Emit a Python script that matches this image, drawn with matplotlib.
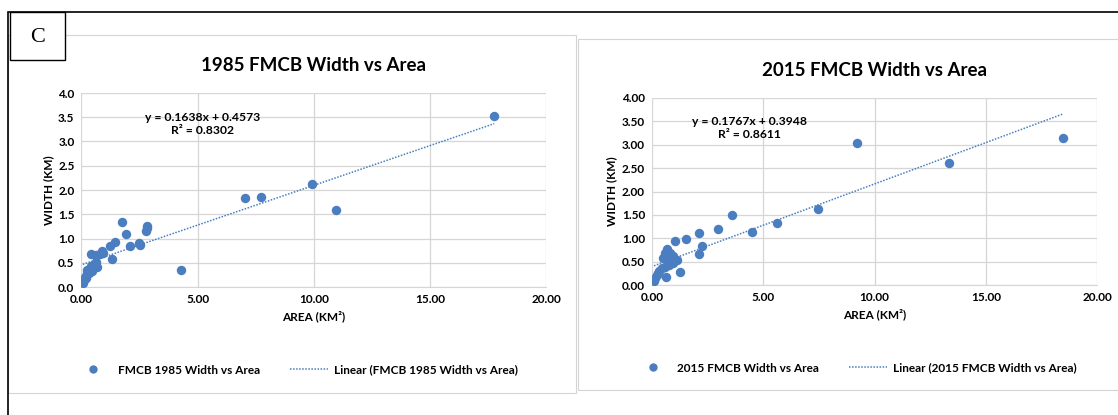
import numpy as np
import matplotlib.pyplot as plt
from matplotlib.lines import Line2D
from matplotlib.patches import Rectangle

# FMCB measurements, 1985
area_1985 = [17.77, 9.92, 10.98, 7.03, 7.72, 4.28, 1.74, 1.92, 2.10, 2.46, 2.53,
             2.84, 2.79, 2.81, 1.45, 1.24, 1.31, 0.40, 0.88, 0.95, 0.78, 0.63,
             0.63, 0.66, 0.52, 0.37, 0.30, 0.23, 0.16, 0.11, 0.06, 0.45, 0.20,
             0.34, 0.42, 0.26]
width_1985 = [3.53, 2.12, 1.58, 1.84, 1.86, 0.36, 1.33, 1.10, 0.85, 0.91, 0.87,
              1.26, 1.16, 1.21, 0.93, 0.85, 0.58, 0.69, 0.74, 0.71, 0.69, 0.66,
              0.52, 0.42, 0.45, 0.38, 0.35, 0.28, 0.21, 0.14, 0.08, 0.32, 0.18,
              0.29, 0.43, 0.36]

# FMCB measurements, 2015
area_2015 = [18.47, 9.22, 13.37, 7.45, 5.60, 4.48, 3.60, 2.95, 2.11, 2.23, 2.11,
             1.51, 1.03, 1.26, 0.63, 0.66, 0.81, 0.94, 1.11, 0.88, 0.73, 0.58,
             0.51, 0.69, 0.43, 0.33, 0.21, 0.13, 0.09, 0.28, 0.78, 0.96, 0.58]
width_2015 = [3.15, 3.04, 2.60, 1.62, 1.33, 1.14, 1.49, 1.20, 1.12, 0.84, 0.66,
              0.98, 0.94, 0.27, 0.18, 0.76, 0.69, 0.61, 0.53, 0.50, 0.46, 0.39,
              0.57, 0.57, 0.36, 0.29, 0.21, 0.14, 0.09, 0.25, 0.43, 0.46, 0.68]

# Published linear fits: slope, intercept, R²
fit_1985 = (0.1638, 0.4573, 0.8302)
fit_2015 = (0.1767, 0.3948, 0.8611)

x_ticks = [0, 5, 10, 15, 20]
y_ticks = [0, 0.5, 1.0, 1.5, 2.0, 2.5, 3.0, 3.5, 4.0]

BLUE = '#4a7ec0'
GRID = '#d6d6d6'
FONT = 'Lato'
HEAVY = 'bold'

W, H = 1118, 415
fig = plt.figure(figsize=(W / 100, H / 100), dpi=100)
fig.patch.set_facecolor('white')


def px_rect(x0, y0, x1, y1):
    return [x0 / W, 1 - y1 / H, (x1 - x0) / W, (y1 - y0) / H]


def fig_box(x0, y0, x1, y1, **kw):
    fig.patches.append(Rectangle((x0 / W, 1 - y1 / H), (x1 - x0) / W, (y1 - y0) / H,
                                 transform=fig.transFigure, figure=fig, **kw))


# chart panels and outer frame
fig_box(8, 35, 576, 393, fill=False, edgecolor='#d4d4d4', linewidth=0.8)
fig_box(578, 39, 1130, 390, fill=False, edgecolor='#d4d4d4', linewidth=0.8)
fig_box(8, 12, 1130, 430, fill=False, edgecolor='black', linewidth=1.2)
fig_box(10, 12, 65, 60, facecolor='white', edgecolor='black', linewidth=1.0)
fig.text(37.5 / W, 1 - 37 / H, 'C', family='Liberation Serif', fontsize=16,
         ha='center', va='center')


def draw(rect, area, width, fit, yfmt, title, eq_pos, label, leg_center):
    ax = fig.add_axes(px_rect(*rect))
    ax.scatter(area, width, s=46, color=BLUE, zorder=3, linewidths=0)
    slope, icpt, r2 = fit
    xs = np.array([min(area), max(area)])
    ax.plot(xs, slope * xs + icpt, linestyle=(0, (1, 1)), color=BLUE,
            linewidth=1.1, zorder=2)
    ax.set_xlim(0, 20)
    ax.set_ylim(0, 4)
    ax.set_xticks(x_ticks)
    ax.set_yticks(y_ticks)
    ax.set_xticklabels([f'{t:.2f}' for t in x_ticks])
    ax.set_yticklabels([yfmt.format(t) for t in y_ticks])
    ax.grid(True, color=GRID, linewidth=0.9)
    ax.set_axisbelow(True)
    for s in ax.spines.values():
        s.set_visible(False)
    ax.spines['bottom'].set_visible(True)
    ax.spines['bottom'].set_color(GRID)
    ax.tick_params(length=0, pad=5)
    for lab in ax.get_xticklabels() + ax.get_yticklabels():
        lab.set_family(FONT)
        lab.set_fontweight(HEAVY)
        lab.set_fontsize(8.5)
    ax.set_xlabel('AREA (KM²)', family=FONT, fontweight=HEAVY, fontsize=8.5,
                  labelpad=4)
    ax.set_ylabel('WIDTH (KM)', family=FONT, fontweight=HEAVY, fontsize=8.5,
                  labelpad=3)
    ax.set_title(title, family=FONT, fontsize=13.5, fontweight='bold', pad=16)
    ax.text(eq_pos[0], eq_pos[1],
            f'y = {slope:.4f}x + {icpt:.4f}\nR² = {r2:.4f}',
            transform=ax.transAxes, ha='center', va='center', family=FONT,
            fontweight=HEAVY, fontsize=8.7, linespacing=1.3)
    handles = [
        Line2D([], [], marker='o', linestyle='none', color=BLUE, markersize=6,
               markeredgewidth=0),
        Line2D([], [], linestyle=(0, (1, 1)), color=BLUE, linewidth=1.1),
    ]
    fig.legend(handles, [label, f'Linear ({label})'], ncol=2,
               loc='center', bbox_to_anchor=leg_center, frameon=False,
               prop={'family': FONT, 'weight': HEAVY, 'size': 8.5},
               handlelength=3.2, columnspacing=2.5, handletextpad=0.5)
    return ax


draw((81.4, 93, 546, 287), area_1985, width_1985, fit_1985, '{:.1f}',
     '1985 FMCB Width vs Area', (0.26, 0.84), 'FMCB 1985 Width vs Area',
     (296 / W, 1 - 370 / H))
draw((652, 98, 1097, 285), area_2015, width_2015, fit_2015, '{:.2f}',
     '2015 FMCB Width vs Area', (0.218, 0.84), '2015 FMCB Width vs Area',
     (855 / W, 1 - 368 / H))

fig.savefig('out.png', dpi=100)
